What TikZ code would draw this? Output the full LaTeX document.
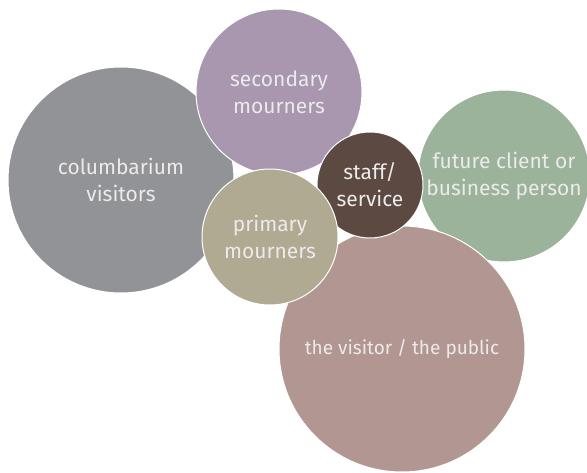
\documentclass[tikz,border=0pt]{standalone}
\usepackage{fontspec}
\setmainfont{Fira Sans}
\definecolor{bgray}{RGB}{146,147,150}
\definecolor{bpurple}{RGB}{168,151,174}
\definecolor{bbrown}{RGB}{92,74,66}
\definecolor{bgreen}{RGB}{155,179,154}
\definecolor{btan}{RGB}{176,170,146}
\definecolor{bpink}{RGB}{178,150,146}
\definecolor{btext}{RGB}{236,234,234}
\usetikzlibrary{positioning}

\begin{document}
\begin{tikzpicture}[
  x=1pt, y=-1pt,
  bubble/.style={
    circle, inner sep=0pt,
    draw=white, line width=1pt,
    font=\fontsize{21}{27}\selectfont,
    align=center,
    text=btext
  }
]
\useasboundingbox (0,0) rectangle (587,473);

\node[bubble, fill=bgray,   minimum size=226pt] (colum)   at (121,180) {columbarium\\visitors};
\node[bubble, fill=bpurple, minimum size=166pt] (second)  at (279,92)  {secondary\\mourners};
\node[bubble, fill=bgreen,  minimum size=172pt] (future)  at (504,176) {future client or\\business person};
\node[bubble, fill=bpink,   minimum size=246pt,
      font=\fontsize{19}{24}\selectfont]        (public)  at (402,349) {the visitor / the public};
\node[bubble, fill=bbrown,  minimum size=106pt] (staff)   at (370,185) {staff/\\service};
\node[bubble, fill=btan,    minimum size=136pt] (primary) at (270,237) {primary\\mourners};
\end{tikzpicture}
\end{document}
